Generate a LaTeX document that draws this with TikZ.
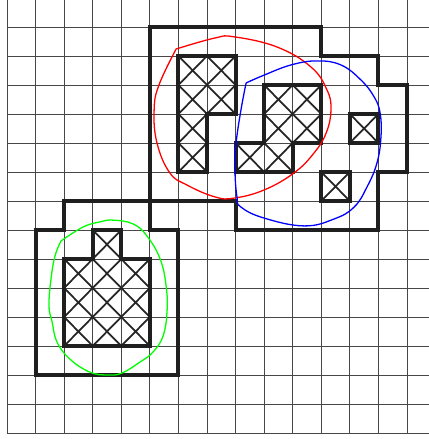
\documentclass[tikz,border=0pt]{standalone}
\usepackage{tikz}
\usetikzlibrary{calc}

\tikzset{
    gridline/.style={draw=black!72, line width=0.6pt},
    outline/.style={draw=black!88, line width=3.4pt, line join=miter},
    hatch/.style={draw=black!85, line width=1.5pt},
    loop/.style={line width=1.1pt, smooth, tension=0.7}
}
\newcommand{\hatchcell}[2]{\draw[hatch] (#1,#2) -- ++(1,1) (#1+1,#2) -- ++(-1,1);}

\begin{document}
\begin{tikzpicture}[x=0.857cm, y=0.87cm]

\useasboundingbox (-0.245,-0.207) rectangle (14.77,14.93);

% Background grid
\foreach \gx in {0,...,14}
    \draw[gridline] (\gx,0) -- (\gx,14.93);
\foreach \gy in {0,...,14}
    \draw[gridline] (0,\gy) -- (14.77,\gy);

% Hatched cells
\foreach \cx/\cy in {6/9,6/10,6/11,6/12,7/11,7/12,
    8/9,9/9,9/10,9/11,10/10,10/11,12/10,11/8,
    2/3,2/4,2/5,3/3,3/4,3/5,4/3,4/4,4/5,3/6}
    \hatchcell{\cx}{\cy};

% Hatched blocks
\draw[outline] (6,13) -- (8,13) -- (8,11) -- (7,11) -- (7,9) -- (6,9) -- cycle;
\draw[outline] (9,12) -- (11,12) -- (11,10) -- (10,10) -- (10,9) -- (8,9)
    -- (8,10) -- (9,10) -- cycle;
\draw[outline] (12,10) rectangle (13,11);
\draw[outline] (11,8) rectangle (12,9);
\draw[outline] (2,3) -- (2,6) -- (3,6) -- (3,7) -- (4,7) -- (4,6) -- (5,6)
    -- (5,3) -- cycle;

% Upper region
\draw[outline] (5,14) -- (11,14) -- (11,13) -- (13,13) -- (13,12) -- (14,12)
    -- (14,9) -- (13,9) -- (13,7) -- (8,7) -- (8,8) -- (5,8) -- cycle;

% Lower region
\draw[outline] (1,7) -- (2,7) -- (2,8) -- (5,8) -- (5,7) -- (6,7) -- (6,2)
    -- (1,2) -- cycle;

% Red loop
\draw[loop, red] plot coordinates {(5.92,13.24) (7.28,13.62) (7.95,13.66)
    (9.45,13.31) (10.64,12.62) (11.2,11.83) (11.34,11.14) (11.17,10.34)
    (10.75,9.66) (10.05,8.97) (9.0,8.38) (7.95,8.1) (7.28,8.14) (6.3,8.55)
    (5.7,8.97) (5.25,10.0) (5.15,11.14) (5.32,12.0) (5.92,13.24)};

% Blue loop
\draw[loop, blue] plot coordinates {(8.37,12.07) (9.0,12.34) (9.94,12.69)
    (10.85,12.83) (11.69,12.69) (12.39,12.17) (12.85,11.59) (13.06,11.03)
    (13.09,10.21) (12.95,9.31) (12.6,8.48) (12.15,7.79) (11.45,7.38)
    (10.4,7.14) (9.0,7.41) (8.19,7.79) (8.05,8.14) (7.98,9.07) (8.02,10.0)
    (8.19,11.14) (8.37,12.07)};

% Green loop
\draw[loop, green] plot coordinates {(1.89,6.62) (2.66,7.1) (3.26,7.28)
    (3.71,7.34) (4.41,7.21) (4.9,6.79) (5.36,6.0) (5.57,5.07) (5.6,4.17)
    (5.46,3.34) (5.11,2.79) (4.66,2.45) (4.03,2.07) (3.53,2.0) (2.9,2.1)
    (2.2,2.55) (1.75,3.14) (1.58,3.83) (1.47,4.38) (1.54,5.31) (1.68,6.1)
    (1.89,6.62)};

\end{tikzpicture}
\end{document}
